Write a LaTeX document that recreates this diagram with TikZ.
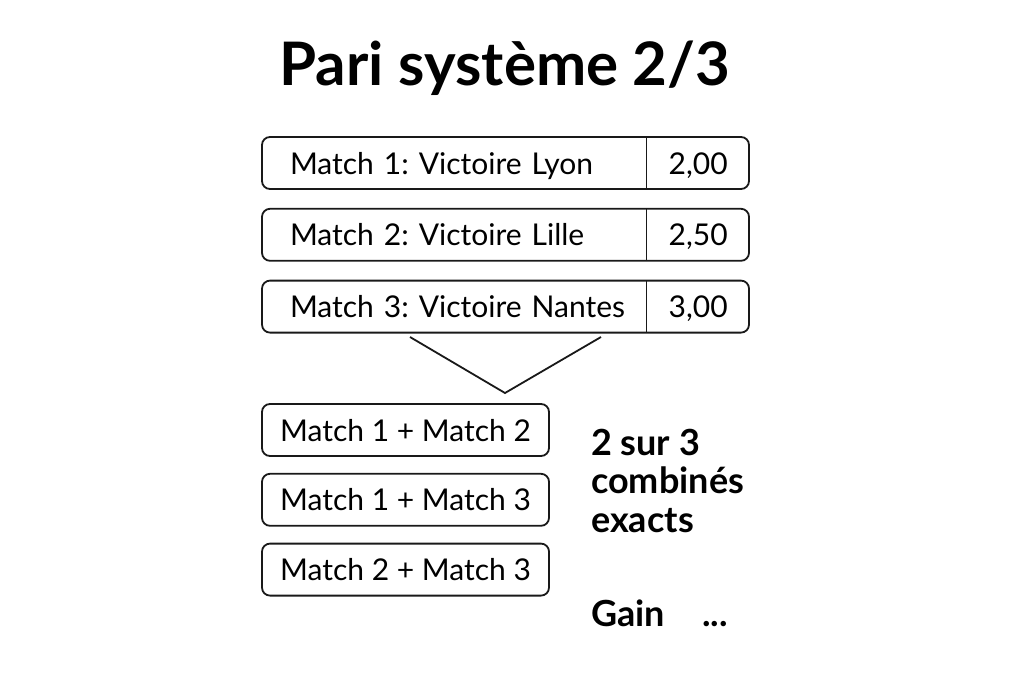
\documentclass[tikz,border=0pt]{standalone}
\usepackage{fontspec}
\setmainfont{Lato}
\usepackage{tikz}
\usetikzlibrary{positioning}
\frenchspacing
\tikzset{BetBox/.style={%
    shape=rectangle,%
    draw=black!90,%
    rounded corners=8pt,%
    line width=1.8pt,%
    minimum width=487pt,%
    minimum height=52pt,%
    text width=431pt,%
    text height=25pt,%
    text depth=3pt,%
    align=left,%
    font=\fontsize{30}{34}\selectfont,%
}}
\tikzset{OddCell/.style={%
    shape=rectangle,%
    minimum width=103pt,%
    minimum height=52pt,%
    text height=25pt,%
    text depth=3pt,%
    inner sep=0pt,%
    font=\fontsize{30}{34}\selectfont,%
}}
\tikzset{ComboBox/.style={%
    shape=rectangle,%
    draw=black!90,%
    rounded corners=8pt,%
    line width=1.8pt,%
    minimum width=287pt,%
    minimum height=52pt,%
    text height=25pt,%
    text depth=3pt,%
    font=\fontsize{30}{34}\selectfont,%
}}
\tikzset{SideText/.style={%
    anchor=base west,%
    inner sep=0pt,%
    align=left,%
    font=\fontsize{36}{38.5}\selectfont\bfseries,%
}}

\begin{document}
\begin{tikzpicture}[x=1pt,y=-1pt]
    \useasboundingbox (0,0) rectangle (1024,683);
    \node[font=\fontsize{60}{64}\selectfont\bfseries] (title) at (505,68) {Pari système 2/3};

    \node[BetBox] (m1) at (505.5,163) {Match 1: Victoire Lyon};
    \node[BetBox, below=18pt of m1] (m2) {Match 2: Victoire Lille};
    \node[BetBox, below=18pt of m2] (m3) {Match 3: Victoire Nantes};
    \node[OddCell, anchor=east] (o1) at (m1.east) {2,00};
    \node[OddCell, anchor=east] (o2) at (m2.east) {2,50};
    \node[OddCell, anchor=east] (o3) at (m3.east) {3,00};
    \draw[line width=1.8pt, black!90] (o1.north west) -- (o1.south west);
    \draw[line width=1.8pt, black!90] (o2.north west) -- (o2.south west);
    \draw[line width=1.8pt, black!90] (o3.north west) -- (o3.south west);

    \coordinate (vl) at (410,337);
    \coordinate (vb) at (505,393);
    \coordinate (vr) at (601,337);
    \draw[line width=1.8pt, black!90] (vl) -- (vb) -- (vr);

    \node[ComboBox] (c12) at (405.5,430) {Match 1 + Match 2};
    \node[ComboBox, below=16pt of c12] (c13) {Match 1 + Match 3};
    \node[ComboBox, below=16pt of c13] (c23) {Match 2 + Match 3};

    \node[SideText] (combi) at (591,532) {2 sur 3\\combinés\\exacts};
    \node[SideText] (gain) at (591,626) {Gain};
    \node[SideText] (dots) at (702,626) {...};
\end{tikzpicture}
\end{document}
